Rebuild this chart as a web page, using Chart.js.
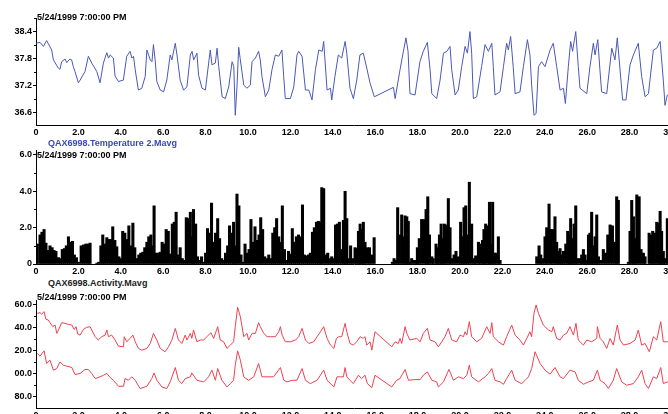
<!DOCTYPE html>
<html>
<head>
<meta charset="utf-8">
<script src="https://cdn.jsdelivr.net/npm/chart.js@4"></script>
<style>
  body { margin: 0; background: #fff; }
  #wrap { position: relative; width: 668px; height: 414px; overflow: hidden; background: #fff; }
  #wrap canvas { position: absolute; left: 0; }
  .lbl { position: absolute; font: bold 9px "Liberation Sans", Arial, sans-serif; line-height: 10px; white-space: nowrap; color: #000; }
</style>
</head>
<body>
<div id="wrap">
  <canvas id="tempChart" width="700" height="129" style="top:10px"></canvas>
  <canvas id="actChart" width="700" height="136" style="top:142px"></canvas>
  <canvas id="bpChart" width="700" height="130" style="top:292px"></canvas>
  <div class="lbl" style="left:37px;top:12px">5/24/1999 7:00:00 PM</div>
  <div class="lbl" style="left:48px;top:138px;color:#3a48c0">QAX6998.Temperature 2.Mavg</div>
  <div class="lbl" style="left:37px;top:150px">5/24/1999 7:00:00 PM</div>
  <div class="lbl" style="left:48px;top:278px;color:#222">QAX6998.Activity.Mavg</div>
  <div class="lbl" style="left:37px;top:292px">5/24/1999 7:00:00 PM</div>
</div>
<script>
// x axis (days)
const xTicks = [0, 2, 4, 6, 8, 10, 12, 14, 16, 18, 20, 22, 24, 26, 28, 30];
const xTickLabels = ['0', '2.0', '4.0', '6.0', '8.0', '10.0', '12.0', '14.0', '16.0', '18.0', '20.0', '22.0', '24.0', '26.0', '28.0', '30.0'];

// panel 1 - temperature
const tempTicks = [36.6, 37.2, 37.8, 38.4];
const tempTickLabels = ['36.6', '37.2', '37.8', '38.4'];
const tempMinor = [36.9, 37.5, 38.1, 38.7];
const tempDays = [
  0, 0.19, 0.35, 0.5, 0.74, 0.82, 1.05, 1.13, 1.21, 1.37,
  1.45, 1.6, 1.68, 1.76, 1.84, 2.0, 2.08, 2.31, 2.47, 2.63,
  2.87, 3.02, 3.18, 3.34, 3.42, 3.5, 3.65, 3.73, 3.89, 4.12,
  4.28, 4.44, 4.52, 4.6, 4.68, 4.83, 4.99, 5.15, 5.23, 5.39,
  5.47, 5.54, 5.62, 5.7, 5.86, 6.02, 6.17, 6.33, 6.41, 6.57,
  6.65, 6.8, 6.96, 7.12, 7.28, 7.36, 7.44, 7.59, 7.67, 7.83,
  7.99, 8.22, 8.3, 8.46, 8.54, 8.62, 8.78, 8.93, 9.09, 9.25,
  9.33, 9.4, 9.48, 9.56, 9.64, 9.8, 9.95, 10.11, 10.19, 10.35,
  10.5, 10.58, 10.66, 10.82, 10.98, 11.13, 11.29, 11.45, 11.6, 11.68,
  11.76, 12.0, 12.16, 12.31, 12.39, 12.55, 12.71, 12.87, 13.02, 13.18,
  13.34, 13.5, 13.57, 13.73, 13.89, 13.95, 14.1, 14.26, 14.42, 14.58,
  14.66, 14.81, 14.97, 15.13, 15.28, 15.44, 15.6, 15.76, 15.96, 16.86,
  16.94, 17.17, 17.33, 17.45, 17.55, 17.64, 17.88, 18.11, 18.27, 18.46,
  18.59, 18.67, 18.9, 19.06, 19.22, 19.38, 19.53, 19.61, 19.77, 19.92,
  20.08, 20.24, 20.35, 20.47, 20.55, 20.63, 20.79, 21.02, 21.18, 21.34,
  21.5, 21.57, 21.65, 21.89, 22.05, 22.2, 22.28, 22.39, 22.51, 22.6,
  22.83, 22.99, 23.18, 23.3, 23.38, 23.49, 23.59, 23.7, 23.85, 24.01,
  24.25, 24.4, 24.56, 24.72, 24.88, 24.97, 25.11, 25.22, 25.31, 25.46,
  25.58, 25.66, 25.98, 26.13, 26.29, 26.37, 26.5, 26.6, 26.68, 26.92,
  27.16, 27.31, 27.42, 27.55, 27.67, 27.83, 28.02, 28.18, 28.41, 28.57,
  28.73, 28.89, 29.12, 29.28, 29.44, 29.59, 29.67, 29.78, 30.0
];
const tempValues = [
  38.15, 38.17, 38.08, 38.21, 38.0, 37.78, 37.6, 37.57, 37.74, 37.8,
  37.72, 37.8, 37.78, 37.63, 37.52, 37.27, 37.33, 37.52, 37.86, 37.71,
  37.52, 37.27, 37.71, 37.94, 37.82, 37.89, 37.82, 37.42, 37.3, 37.33,
  37.86, 37.97, 37.82, 37.86, 37.56, 37.11, 37.15, 37.41, 38.0, 37.78,
  37.74, 38.12, 37.78, 37.3, 37.11, 37.07, 37.33, 37.89, 37.78, 38.15,
  37.89, 37.33, 37.11, 37.18, 37.89, 37.97, 37.78, 37.93, 37.44, 37.15,
  37.11, 38.0, 37.67, 37.71, 38.04, 37.63, 36.96, 36.92, 37.18, 37.74,
  37.63, 36.55, 37.18, 38.06, 37.78, 37.22, 37.15, 37.22, 37.74, 37.82,
  37.97, 37.78, 37.41, 36.96, 37.11, 37.56, 37.89, 37.86, 38.0, 37.44,
  36.92, 36.92, 37.18, 37.89, 37.97, 37.86, 37.11, 37.11, 36.89, 37.56,
  38.0, 37.97, 38.19, 37.11, 37.15, 36.89, 37.41, 37.89, 37.82, 38.19,
  37.93, 37.15, 36.92, 37.33, 37.89, 37.93, 37.6, 37.26, 36.96, 37.17,
  36.92, 37.56, 37.97, 38.27, 37.97, 37.03, 37.0, 37.74, 37.97, 38.17,
  37.56, 37.03, 36.92, 37.33, 37.93, 37.97, 38.08, 37.56, 37.0, 37.11,
  37.63, 38.08, 37.93, 38.41, 37.93, 36.92, 36.96, 37.63, 38.12, 37.97,
  38.15, 37.63, 37.0, 37.07, 37.63, 38.15, 38.0, 38.3, 37.63, 37.03,
  37.07, 37.63, 38.23, 37.89, 37.22, 36.55, 36.59, 37.63, 37.74, 37.63,
  38.0, 38.15, 37.63, 37.11, 37.15, 36.81, 37.63, 38.19, 37.97, 38.41,
  37.63, 37.15, 37.03, 37.63, 38.15, 37.89, 38.23, 37.56, 37.07, 37.03,
  38.04, 37.78, 38.27, 37.56, 36.89, 36.89, 37.67, 37.89, 38.15, 37.41,
  36.96, 37.03, 38.0, 38.04, 38.19, 37.33, 36.77, 37.0, 36.98
];

// panel 2 - activity bars
const actTicks = [0, 2, 4, 6];
const actTickLabels = ['0', '2.0', '4.0', '6.0'];
const actMinor = [1, 3, 5];
const actDays = [
  0.06, 0.19, 0.28, 0.38, 0.47, 0.58, 0.66, 0.76, 0.85, 0.94,
  1.06, 1.15, 1.24, 1.34, 1.43, 1.53, 1.62, 1.72, 1.81, 1.91,
  2.0, 2.13, 2.24, 2.35, 2.46, 2.55, 2.87, 2.96, 3.06, 3.15,
  3.24, 3.34, 3.43, 3.53, 3.62, 3.72, 3.81, 3.91, 4.0, 4.09,
  4.19, 4.28, 4.38, 4.47, 4.57, 4.66, 4.76, 4.85, 4.94, 5.04,
  5.13, 5.23, 5.32, 5.42, 5.51, 5.57, 5.67, 5.76, 5.86, 5.95,
  6.05, 6.14, 6.24, 6.33, 6.43, 6.52, 6.61, 6.71, 6.8, 6.9,
  6.99, 7.09, 7.18, 7.28, 7.37, 7.43, 7.53, 7.62, 7.72, 7.81,
  7.91, 8.0, 8.09, 8.19, 8.28, 8.38, 8.47, 8.57, 8.66, 8.76,
  8.85, 8.94, 9.04, 9.13, 9.23, 9.32, 9.39, 9.48, 9.57, 9.67,
  9.76, 9.86, 9.95, 10.05, 10.14, 10.24, 10.33, 10.43, 10.52, 10.6,
  10.69, 10.79, 10.88, 10.98, 11.07, 11.17, 11.26, 11.35, 11.45, 11.54,
  11.62, 11.72, 11.81, 11.91, 12.0, 12.09, 12.19, 12.28, 12.38, 12.47,
  12.57, 12.66, 12.76, 12.85, 12.94, 13.04, 13.13, 13.23, 13.32, 13.42,
  13.48, 13.57, 13.67, 13.76, 13.86, 13.95, 14.05, 14.13, 14.22, 14.31,
  14.42, 14.5, 14.58, 14.66, 14.73, 14.84, 14.94, 15.05, 15.13, 15.21,
  15.29, 15.36, 15.44, 15.52, 15.63, 15.73, 15.84, 15.95, 16.81, 16.89,
  16.97, 17.06, 17.14, 17.25, 17.33, 17.41, 17.49, 17.56, 17.64, 17.72,
  17.83, 17.93, 17.99, 18.08, 18.19, 18.32, 18.4, 18.48, 18.56, 18.67,
  18.74, 18.87, 18.93, 19.03, 19.11, 19.18, 19.26, 19.34, 19.45, 19.53,
  19.61, 19.72, 19.81, 19.92, 20.03, 20.11, 20.19, 20.27, 20.35, 20.44,
  20.55, 20.66, 20.74, 20.87, 20.95, 21.06, 21.13, 21.21, 21.31, 21.39,
  21.46, 21.54, 21.62, 21.7, 21.81, 21.89, 23.62, 23.73, 23.81, 23.89,
  24.01, 24.09, 24.2, 24.28, 24.37, 24.48, 24.56, 24.64, 24.72, 24.8,
  24.88, 24.99, 25.08, 25.16, 25.22, 25.3, 25.38, 25.46, 25.54, 25.66,
  25.74, 25.82, 25.9, 25.98, 26.06, 26.13, 26.21, 26.29, 26.37, 26.45,
  26.53, 26.64, 26.76, 26.86, 26.97, 27.08, 27.19, 27.31, 27.39, 27.47,
  27.94, 28.02, 28.1, 28.18, 28.26, 28.34, 28.45, 28.54, 28.65, 28.73,
  28.92, 29.01, 29.09, 29.17, 29.28, 29.36, 29.44, 29.51, 29.59, 29.67,
  29.78, 29.86
];
const actValues = [
  1.1, 1.6, 1.75, 1.9, 1.15, 0.75, 1.0, 0.9, 0.75, 0.7,
  0.35, 0.3, 0.8, 0.85, 1.0, 1.5, 1.2, 1.25, 0.5, 0.35,
  0.1, 1.0, 1.05, 1.1, 1.1, 1.15, 0.05, 0.1, 1.0, 1.6,
  1.1, 1.45, 1.35, 1.35, 2.05, 1.3, 0.95, 0.4, 0.3, 1.8,
  1.7, 1.35, 2.1, 1.0, 2.25, 0.9, 0.3, 0.5, 0.6, 0.65,
  0.9, 1.2, 1.5, 1.6, 1.0, 3.2, 0.6, 0.6, 0.65, 1.2,
  1.1, 1.9, 1.8, 0.55, 2.2, 2.3, 2.85, 0.5, 0.9, 0.3,
  0.2, 2.55, 2.5, 2.85, 1.5, 3.0, 2.2, 0.4, 0.2, 0.4,
  0.1, 0.6, 1.95, 1.7, 3.35, 1.2, 1.7, 2.5, 1.4, 0.3,
  0.2, 0.6, 1.0, 2.1, 1.7, 2.3, 1.0, 3.85, 3.2, 0.5,
  0.1, 1.1, 0.6, 0.8, 2.45, 1.2, 2.05, 1.3, 1.6, 2.55,
  1.9, 0.4, 0.3, 0.5, 0.3, 1.7, 2.0, 2.5, 1.5, 1.2,
  3.2, 0.8, 0.2, 0.7, 0.55, 1.95, 1.2, 1.5, 1.6, 1.5,
  3.25, 0.5, 0.45, 0.5, 0.6, 1.75, 2.0, 2.3, 2.35, 2.3,
  4.2, 4.15, 0.5, 0.6, 0.3, 0.4, 0.3, 2.15, 2.2, 2.3,
  0.8, 2.4, 4.0, 2.5, 0.3, 1.0, 0.3, 0.9, 0.85, 1.8,
  2.2, 1.9, 2.3, 1.2, 0.9, 0.9, 0.5, 1.45, 0.1, 0.3,
  0.2, 3.1, 1.6, 2.7, 1.5, 2.65, 2.6, 2.35, 0.1, 0.3,
  0.2, 0.2, 0.9, 1.4, 2.45, 2.45, 3.0, 3.7, 1.6, 0.4,
  0.3, 1.1, 0.9, 1.6, 2.2, 1.4, 2.2, 2.15, 3.6, 2.0,
  0.3, 0.5, 0.7, 0.4, 2.3, 1.5, 3.1, 3.2, 1.6, 4.5,
  2.2, 0.3, 0.45, 1.2, 1.1, 1.3, 1.9, 2.2, 2.1, 3.4,
  1.1, 3.4, 0.6, 0.6, 1.5, 0.2, 0.4, 1.0, 0.5, 0.3,
  1.5, 2.0, 3.3, 1.9, 1.9, 2.6, 1.2, 0.7, 0.85, 0.5,
  0.7, 1.1, 1.8, 1.6, 2.5, 1.4, 2.2, 3.2, 0.3, 0.3,
  0.5, 0.8, 0.5, 0.2, 1.6, 1.7, 2.85, 1.0, 1.5, 2.7,
  0.4, 0.2, 0.8, 0.6, 1.6, 2.15, 2.1, 1.2, 3.7, 3.5,
  0.1, 1.8, 3.5, 2.6, 1.4, 3.8, 3.7, 0.8, 0.6, 0.4,
  1.7, 1.6, 1.8, 1.7, 2.3, 2.25, 2.9, 1.8, 0.7, 0.3,
  2.5, 1.0
];

// panel 3 - two red series
const bpTicks = [80, 100, 120, 140, 160];
const bpTickLabels = ['80.0', '00.0', '20.0', '40.0', '60.0'];
const bpMinor = [90, 110, 130, 150];
const bpHighDays = [
  0.06, 0.19, 0.27, 0.38, 0.47, 0.58, 0.66, 0.79, 0.9, 0.98,
  1.06, 1.21, 1.37, 1.53, 1.69, 1.8, 1.89, 1.97, 2.08, 2.24,
  2.39, 2.55, 2.63, 2.79, 2.94, 3.1, 3.26, 3.34, 3.42, 3.57,
  3.73, 3.89, 4.13, 4.16, 4.28, 4.44, 4.57, 4.68, 4.83, 4.99,
  5.23, 5.39, 5.54, 5.7, 5.86, 6.09, 6.25, 6.41, 6.57, 6.72,
  6.88, 7.04, 7.12, 7.28, 7.35, 7.43, 7.59, 7.75, 7.91, 8.06,
  8.25, 8.38, 8.57, 8.69, 8.85, 9.01, 9.17, 9.32, 9.4, 9.51,
  9.64, 9.8, 9.95, 10.03, 10.19, 10.35, 10.5, 10.58, 10.74, 10.9,
  11.06, 11.29, 11.45, 11.53, 11.61, 11.76, 12.0, 12.24, 12.39, 12.55,
  12.71, 12.87, 13.1, 13.26, 13.42, 13.57, 13.73, 13.89, 14.05, 14.17,
  14.28, 14.42, 14.58, 14.66, 14.81, 14.97, 15.13, 15.29, 15.44, 15.52,
  15.6, 15.76, 15.84, 15.99, 16.78, 16.94, 17.09, 17.17,
  17.25, 17.41, 17.49, 17.64, 17.96, 18.12, 18.27, 18.46, 18.59, 18.82,
  18.98, 19.14, 19.29, 19.45, 19.61, 19.84, 20.0, 20.16, 20.24, 20.32,
  20.44, 20.55, 20.79, 21.02, 21.26, 21.42, 21.5, 21.57, 21.81, 22.05,
  22.2, 22.44, 22.6, 22.83, 22.99, 23.15, 23.3, 23.38, 23.49, 23.59,
  23.7, 23.93, 24.17, 24.33, 24.4, 24.56, 24.72, 24.88, 25.03, 25.19,
  25.35, 25.47, 25.58, 25.82, 25.98, 26.21, 26.45, 26.48, 26.61, 26.76,
  26.92, 27.08, 27.23, 27.42, 27.55, 27.71, 28.02, 28.26, 28.41, 28.57,
  28.73, 28.93, 29.12, 29.28, 29.47, 29.59, 29.78, 30.0
];
const bpHigh = [
  152.7, 153.3, 151.9, 154.2, 147.5, 146.9, 144.6, 141.1, 142.5, 135.3,
  138.2, 144.6, 144.0, 143.1, 142.5, 138.8, 141.1, 134.7, 133.8, 138.8,
  140.5, 141.1, 138.2, 132.4, 129.5, 132.4, 133.8, 138.2, 132.4, 133.8,
  129.5, 124.2, 123.6, 132.4, 128.0, 130.9, 133.8, 128.0, 122.2, 120.7,
  122.2, 126.5, 135.3, 129.5, 122.2, 119.3, 123.6, 129.5, 139.6, 129.5,
  126.5, 133.8, 129.5, 135.3, 130.9, 138.2, 128.0, 129.5, 129.5, 132.4,
  135.9, 130.9, 141.1, 129.5, 128.0, 122.2, 125.1, 128.0, 141.1, 158.0,
  149.8, 132.4, 135.3, 129.5, 135.3, 135.3, 144.6, 141.1, 135.3, 132.4,
  132.4, 132.4, 136.7, 141.1, 133.8, 128.0, 128.0, 129.5, 132.4, 139.6,
  129.5, 126.5, 128.0, 132.4, 136.7, 141.1, 130.9, 125.1, 122.2, 130.9,
  132.4, 132.4, 144.0, 136.7, 126.5, 125.1, 128.0, 132.4, 130.9, 132.4,
  125.1, 128.0, 120.7, 136.7, 123.6, 128.0, 126.5, 130.9,
  126.5, 141.1, 135.3, 129.5, 130.9, 128.0, 135.3, 139.6, 129.5, 128.0,
  123.6, 128.0, 132.4, 139.6, 129.5, 128.0, 133.8, 132.4, 136.7, 133.8,
  145.5, 132.4, 128.0, 130.9, 141.1, 135.3, 144.6, 132.4, 128.0, 125.1,
  132.4, 142.5, 133.8, 129.5, 125.1, 130.9, 136.7, 132.4, 152.7, 160.0,
  152.7, 142.5, 138.2, 136.7, 141.1, 130.9, 129.5, 133.8, 135.3, 141.1,
  133.8, 144.0, 129.5, 125.1, 129.5, 128.0, 130.9, 141.1, 130.9, 128.0,
  122.2, 130.9, 125.1, 142.5, 129.5, 125.1, 126.5, 129.5, 138.2, 125.1,
  126.5, 119.3, 132.4, 129.5, 145.5, 128.0, 128.0, 127.0
];
const bpLowDays = [
  0.06, 0.19, 0.38, 0.5, 0.66, 0.82, 0.98, 1.13, 1.29, 1.45,
  1.69, 1.84, 2.08, 2.31, 2.47, 2.63, 2.79, 3.02, 3.18, 3.34,
  3.5, 3.65, 3.89, 4.13, 4.2, 4.36, 4.52, 4.68, 4.91, 5.23,
  5.46, 5.57, 5.7, 5.94, 6.17, 6.33, 6.57, 6.72, 6.88, 7.04,
  7.28, 7.35, 7.59, 7.91, 8.14, 8.3, 8.46, 8.57, 8.77, 9.01,
  9.17, 9.32, 9.4, 9.51, 9.64, 9.8, 10.03, 10.27, 10.5, 10.66,
  10.9, 11.21, 11.53, 11.69, 11.84, 12.08, 12.31, 12.55, 12.71, 12.94,
  13.26, 13.57, 13.73, 14.05, 14.2, 14.33, 14.5, 14.58, 14.66, 14.81,
  14.97, 15.21, 15.36, 15.52, 15.63, 15.84, 15.99, 16.78,
  17.01, 17.17, 17.41, 17.57, 17.88, 18.12, 18.27, 18.46, 18.67, 18.9,
  18.98, 19.22, 19.48, 19.69, 19.92, 20.16, 20.32, 20.44, 20.55, 20.87,
  21.18, 21.34, 21.5, 21.65, 21.89, 22.05, 22.2, 22.44, 22.6, 22.91,
  23.07, 23.23, 23.38, 23.54, 23.78, 24.01, 24.25, 24.48, 24.72, 24.88,
  25.19, 25.43, 25.58, 25.82, 26.06, 26.29, 26.48, 26.61, 26.84, 27.0,
  27.23, 27.39, 27.63, 27.86, 28.18, 28.41, 28.57, 28.73, 28.89, 29.12,
  29.28, 29.47, 29.59, 29.78, 30.0
];
const bpLow = [
  117.8, 115.5, 120.1, 109.1, 112.0, 103.3, 104.7, 110.5, 107.6, 106.8,
  105.6, 99.5, 100.4, 103.9, 103.9, 100.4, 96.0, 97.5, 98.9, 100.4,
  96.9, 94.5, 89.3, 89.3, 96.0, 94.5, 97.5, 94.5, 87.3, 89.3,
  96.0, 100.9, 94.5, 88.7, 87.3, 93.1, 105.6, 94.5, 91.6, 96.0,
  97.5, 100.9, 94.5, 93.1, 97.5, 103.3, 94.5, 104.7, 94.5, 88.7,
  91.6, 94.5, 107.6, 120.1, 112.0, 97.5, 94.5, 97.5, 109.1, 97.5,
  97.5, 97.5, 105.6, 94.5, 93.1, 94.5, 94.5, 104.7, 94.5, 91.6,
  94.5, 103.3, 94.5, 88.7, 97.5, 97.5, 97.5, 105.6, 97.5, 94.5,
  91.6, 98.9, 96.0, 98.9, 91.6, 88.1, 98.9, 88.7,
  94.5, 96.0, 103.9, 94.5, 95.1, 95.1, 98.9, 101.8, 94.5, 93.1,
  88.7, 93.1, 103.9, 94.5, 97.5, 96.0, 98.9, 107.6, 97.5, 93.1,
  97.5, 100.4, 104.7, 94.5, 93.1, 91.0, 96.0, 103.3, 94.5, 91.6,
  94.5, 97.5, 104.7, 119.3, 109.1, 103.3, 99.8, 105.6, 97.5, 96.0,
  103.3, 101.8, 94.5, 91.0, 93.1, 94.5, 103.3, 94.5, 91.6, 87.3,
  94.5, 104.7, 93.1, 90.2, 91.6, 97.5, 103.3, 91.6, 87.3, 97.5,
  96.0, 105.6, 91.6, 93.1, 93.0
];

Chart.defaults.font.family = '"Liberation Sans", Arial, sans-serif';
Chart.defaults.font.size = 9;
Chart.defaults.font.weight = 'bold';
Chart.defaults.color = '#000';

function pairs(xs, ys) {
  return xs.map((x, i) => ({ x: x, y: ys[i] }));
}

// small tick marks between the labelled ones on the y axis
const minorTicks = {
  id: 'minorTicks',
  afterDraw(chart, args, opts) {
    const s = chart.scales.y;
    const ctx = chart.ctx;
    ctx.save();
    ctx.strokeStyle = '#000';
    ctx.lineWidth = 1;
    (opts.values || []).forEach(v => {
      if (v < s.min || v > s.max) return;
      const y = Math.round(s.getPixelForValue(v)) + 0.5;
      ctx.beginPath();
      ctx.moveTo(s.right - 2, y);
      ctx.lineTo(s.right, y);
      ctx.stroke();
    });
    ctx.restore();
  }
};

function xAxis() {
  return {
    type: 'linear',
    min: 0,
    max: 30,
    offset: false,
    grid: { display: false, drawTicks: false, offset: false },
    border: { color: '#000', width: 1 },
    ticks: { autoSkip: false, maxRotation: 0, padding: 2, callback: (v, i) => xTickLabels[i] },
    afterBuildTicks: s => { s.ticks = xTicks.map(v => ({ value: v })); },
    afterFit: s => { s.height = 14; }
  };
}

function yAxis(min, max, vals, labels) {
  return {
    type: 'linear',
    min: min,
    max: max,
    grid: { display: true, drawOnChartArea: false, drawTicks: true, tickLength: 3, color: '#000' },
    border: { color: '#000', width: 1 },
    ticks: { autoSkip: false, padding: 1, callback: (v, i) => labels[i] },
    afterBuildTicks: s => { s.ticks = vals.map(v => ({ value: v })); },
    afterFit: s => { s.width = 36; }
  };
}

function baseOptions(yScale, minor) {
  return {
    responsive: false,
    animation: false,
    layout: { padding: { top: 8, right: 28, left: 0, bottom: 0 } },
    plugins: { legend: { display: false }, tooltip: { enabled: false }, minorTicks: { values: minor } },
    scales: { x: xAxis(), y: yScale }
  };
}

new Chart(document.getElementById('tempChart'), {
  type: 'line',
  data: {
    datasets: [{
      data: pairs(tempDays, tempValues),
      borderColor: '#4a58b8',
      borderWidth: 1,
      pointRadius: 0,
      tension: 0
    }]
  },
  options: baseOptions(yAxis(36.333, 38.711, tempTicks, tempTickLabels), tempMinor),
  plugins: [minorTicks]
});

new Chart(document.getElementById('actChart'), {
  type: 'bar',
  data: {
    datasets: [{
      data: pairs(actDays, actValues),
      backgroundColor: '#000',
      borderWidth: 0,
      barThickness: 2.4
    }]
  },
  options: baseOptions(yAxis(0, 6.27, actTicks, actTickLabels), actMinor),
  plugins: [minorTicks]
});

new Chart(document.getElementById('bpChart'), {
  type: 'line',
  data: {
    datasets: [{
      data: pairs(bpHighDays, bpHigh),
      borderColor: '#ee4050',
      borderWidth: 1,
      pointRadius: 0,
      tension: 0
    }, {
      data: pairs(bpLowDays, bpLow),
      borderColor: '#ee4050',
      borderWidth: 1,
      pointRadius: 0,
      tension: 0
    }]
  },
  options: baseOptions(yAxis(70.4, 164.3, bpTicks, bpTickLabels), bpMinor),
  plugins: [minorTicks]
});
</script>
</body>
</html>
